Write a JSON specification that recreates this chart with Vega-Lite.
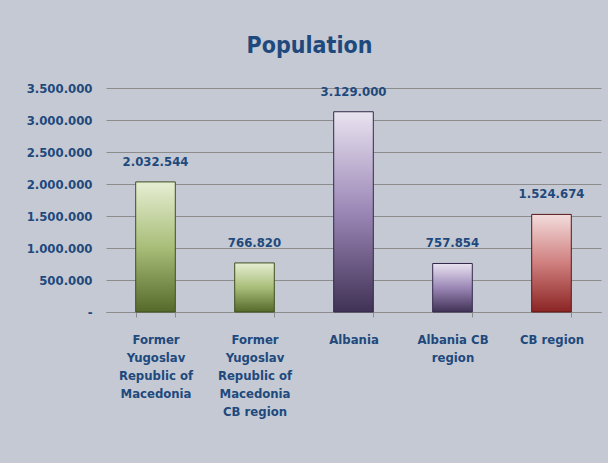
{
  "$schema": "https://vega.github.io/schema/vega-lite/v6.json",
  "width": 495,
  "height": 224,
  "padding": {"left": 26, "top": 35, "right": 7, "bottom": 46},
  "background": "#c4c9d3",
  "config": {
    "locale": {"number": {"decimal": ",", "thousands": ".", "grouping": [3], "currency": ["", " €"]}},
    "view": {"stroke": null},
    "font": "DejaVu Sans Condensed, sans-serif"
  },
  "title": {
    "text": "Population",
    "fontSize": 23,
    "fontWeight": "bold",
    "color": "#1f497d",
    "font": "DejaVu Sans Condensed, sans-serif",
    "offset": 24,
    "anchor": "middle",
    "dx": -44
  },
  "data": {
    "values": [
      {"region": "Former Yugoslav Republic of Macedonia", "country": "FYROM", "population": 2032544},
      {"region": "Former Yugoslav Republic of Macedonia CB region", "country": "FYROM", "population": 766820},
      {"region": "Albania", "country": "Albania", "population": 3129000},
      {"region": "Albania CB region", "country": "Albania", "population": 757854},
      {"region": "CB region", "country": "CB", "population": 1524674}
    ]
  },
  "encoding": {
    "x": {
      "field": "region",
      "type": "nominal",
      "sort": null,
      "title": null,
      "scale": {"paddingInner": 0.6, "paddingOuter": 0.3},
      "axis": {
        "labelAngle": 0,
        "labelFontSize": 13,
        "labelFontWeight": "bold",
        "labelColor": "#1f497d",
        "labelBaseline": "top",
        "labelLineHeight": 18,
        "labelPadding": 16,
        "labelLimit": 200,
        "domainColor": "#8c8c8c",
        "tickColor": "#8c8c8c",
        "tickSize": 5,
        "tickBand": "extent",
        "labelExpr": "datum.value == 'Former Yugoslav Republic of Macedonia' ? ['Former', 'Yugoslav', 'Republic of', 'Macedonia'] : datum.value == 'Former Yugoslav Republic of Macedonia CB region' ? ['Former', 'Yugoslav', 'Republic of', 'Macedonia', 'CB region'] : datum.value == 'Albania CB region' ? ['Albania CB', 'region'] : datum.value"
      }
    },
    "y": {
      "field": "population",
      "type": "quantitative",
      "title": null,
      "scale": {"domain": [0, 3500000], "nice": false},
      "axis": {
        "values": [0, 500000, 1000000, 1500000, 2000000, 2500000, 3000000, 3500000],
        "format": ",.0f",
        "labelExpr": "datum.value == 0 ? '-' : datum.label",
        "labelFontSize": 13,
        "labelFontWeight": "bold",
        "labelColor": "#1f497d",
        "labelPadding": 14,
        "ticks": false,
        "domain": false,
        "gridColor": "#8c8c8c",
        "gridWidth": 1
      }
    }
  },
  "layer": [
    {
      "transform": [{"filter": "datum.country == 'FYROM'"}],
      "mark": {
        "type": "bar",
        "stroke": "#3f4f1f",
        "strokeWidth": 1,
        "color": {
          "gradient": "linear", "x1": 0, "y1": 0, "x2": 0, "y2": 1,
          "stops": [
            {"offset": 0, "color": "#e6eed3"},
            {"offset": 0.5, "color": "#a9be79"},
            {"offset": 1, "color": "#55692a"}
          ]
        }
      }
    },
    {
      "transform": [{"filter": "datum.country == 'Albania'"}],
      "mark": {
        "type": "bar",
        "stroke": "#33284a",
        "strokeWidth": 1,
        "color": {
          "gradient": "linear", "x1": 0, "y1": 0, "x2": 0, "y2": 1,
          "stops": [
            {"offset": 0, "color": "#e9e3f0"},
            {"offset": 0.5, "color": "#9b87b6"},
            {"offset": 1, "color": "#403155"}
          ]
        }
      }
    },
    {
      "transform": [{"filter": "datum.country == 'CB'"}],
      "mark": {
        "type": "bar",
        "stroke": "#5a1818",
        "strokeWidth": 1,
        "color": {
          "gradient": "linear", "x1": 0, "y1": 0, "x2": 0, "y2": 1,
          "stops": [
            {"offset": 0, "color": "#f3dcdc"},
            {"offset": 0.5, "color": "#cf7f7e"},
            {"offset": 1, "color": "#8c2424"}
          ]
        }
      }
    },
    {
      "mark": {
        "type": "text",
        "dy": -20,
        "fontSize": 13,
        "fontWeight": "bold",
        "color": "#1f497d"
      },
      "encoding": {
        "text": {"field": "population", "type": "quantitative", "format": ",.0f"}
      }
    }
  ]
}
